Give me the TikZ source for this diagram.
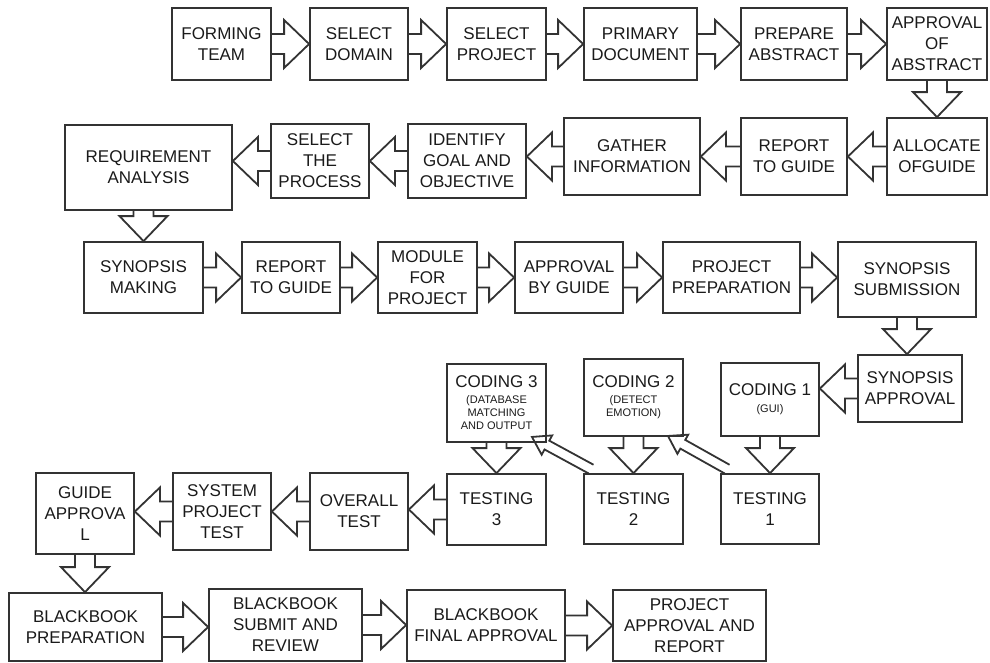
\documentclass[tikz,border=0pt]{standalone}
\usepackage{fontspec}
\setmainfont{Liberation Sans}
\usetikzlibrary{calc}
\definecolor{linegray}{HTML}{333333}
\definecolor{textgray}{HTML}{1A1A1A}
\newcommand{\smalltxt}{\fontsize{11}{13}\selectfont}
% hollow block arrow: shaft half width, head half width, head length, from, to
\newcommand{\blockarrow}[5]{%
  \draw[barrow] let \p1=(#4), \p2=(#5), \n1={atan2(\y2-\y1,\x2-\x1)}, \n2={veclen(\x2-\x1,\y2-\y1)} in
    [shift={(\p1)}, rotate=\n1]
    (0pt,#1) -- (\n2-#3,#1) -- (\n2-#3,#2) -- (\n2,0pt) -- (\n2-#3,-#2) -- (\n2-#3,-#1) -- (0pt,-#1);}
\newcommand{\flowarrow}[2]{\blockarrow{10pt}{24pt}{25pt}{#1}{#2}}
\begin{document}
\begin{tikzpicture}[x=1pt,y=1pt,
  flowbox/.style={draw=linegray, line width=1.8pt, align=center, inner sep=1pt, text=textgray, font=\fontsize{17}{21}\selectfont},
  barrow/.style={draw=linegray, line width=1.8pt, line join=miter}]
\useasboundingbox (0,0) rectangle (990,-662);
% first row
\node[flowbox, minimum width=99pt, minimum height=72pt] (form) at (221.5,-44) {FORMING\\TEAM};
\node[flowbox, minimum width=98pt, minimum height=72pt] (dom) at (359,-44) {SELECT\\DOMAIN};
\node[flowbox, minimum width=99pt, minimum height=72pt] (proj) at (496.5,-44) {SELECT\\PROJECT};
\node[flowbox, minimum width=113pt, minimum height=72pt] (prim) at (640.5,-44) {PRIMARY\\DOCUMENT};
\node[flowbox, minimum width=106pt, minimum height=72pt] (prep) at (794,-44) {PREPARE\\ABSTRACT};
\node[flowbox, minimum width=100pt, minimum height=72pt] (appabs) at (937,-44) {APPROVAL\\OF\\ABSTRACT};
% second row
\node[flowbox, minimum width=100pt, minimum height=77pt] (alloc) at (937,-156.5) {ALLOCATE\\OFGUIDE};
\node[flowbox, minimum width=106pt, minimum height=77pt] (rep1) at (794,-156.5) {REPORT\\TO GUIDE};
\node[flowbox, minimum width=136pt, minimum height=77pt] (gath) at (632,-156.5) {GATHER\\INFORMATION};
\node[flowbox, minimum width=118pt, minimum height=74pt] (ident) at (467,-161) {IDENTIFY\\GOAL AND\\OBJECTIVE};
\node[flowbox, minimum width=98pt, minimum height=74pt] (selproc) at (320,-161) {SELECT\\THE\\PROCESS};
\node[flowbox, minimum width=167pt, minimum height=85pt] (req) at (148.5,-167.5) {REQUIREMENT\\ANALYSIS};
% third row
\node[flowbox, minimum width=119pt, minimum height=71pt] (syn) at (143.5,-277.5) {SYNOPSIS\\MAKING};
\node[flowbox, minimum width=98pt, minimum height=71pt] (rep2) at (291,-277.5) {REPORT\\TO GUIDE};
\node[flowbox, minimum width=99pt, minimum height=71pt] (mod) at (427.5,-277.5) {MODULE\\FOR\\PROJECT};
\node[flowbox, minimum width=108pt, minimum height=71pt] (appg) at (569,-277.5) {APPROVAL\\BY GUIDE};
\node[flowbox, minimum width=137pt, minimum height=71pt] (pprep) at (731.5,-277.5) {PROJECT\\PREPARATION};
\node[flowbox, minimum width=138pt, minimum height=75pt] (synsub) at (907,-279.5) {SYNOPSIS\\SUBMISSION};
% coding
\node[flowbox, minimum width=104pt, minimum height=67pt] (synapp) at (910,-388.5) {SYNOPSIS\\APPROVAL};
\node[flowbox, minimum width=98pt, minimum height=73pt] (cod1) at (770,-399.5) {CODING 1\\[-4pt]\smalltxt (GUI)};
\node[flowbox, minimum width=99pt, minimum height=77pt] (cod2) at (633.5,-397.5) {CODING 2\\[-5pt]\smalltxt (DETECT\\[-8pt]\smalltxt EMOTION)};
\node[flowbox, minimum width=99pt, minimum height=78pt] (cod3) at (496.5,-403) {CODING 3\\[-5pt]\smalltxt (DATABASE\\[-8pt]\smalltxt MATCHING\\[-8pt]\smalltxt AND OUTPUT};
% testing
\node[flowbox, minimum width=98pt, minimum height=70pt] (test1) at (770,-509) {TESTING\\1};
\node[flowbox, minimum width=99pt, minimum height=70pt] (test2) at (633.5,-509) {TESTING\\2};
\node[flowbox, minimum width=99pt, minimum height=71pt] (test3) at (496.5,-509.5) {TESTING\\3};
\node[flowbox, minimum width=98pt, minimum height=77pt] (overall) at (359,-511.5) {OVERALL\\TEST};
\node[flowbox, minimum width=98pt, minimum height=77pt] (sysproj) at (222,-511.5) {SYSTEM\\PROJECT\\TEST};
\node[flowbox, minimum width=98pt, minimum height=81pt] (guide) at (85,-513.5) {GUIDE\\APPROVA\\L};
% last row
\node[flowbox, minimum width=153pt, minimum height=68pt] (bbprep) at (85.5,-627) {BLACKBOOK\\PREPARATION};
\node[flowbox, minimum width=153pt, minimum height=72pt] (bbsub) at (285.5,-625) {BLACKBOOK\\SUBMIT AND\\REVIEW};
\node[flowbox, minimum width=158pt, minimum height=71pt] (bbfinal) at (486,-625.5) {BLACKBOOK\\FINAL APPROVAL};
\node[flowbox, minimum width=153pt, minimum height=71pt] (projapp) at (689.5,-625.5) {PROJECT\\APPROVAL AND\\REPORT};
% arrows
\flowarrow{form.east}{dom.west}
\flowarrow{dom.east}{proj.west}
\flowarrow{proj.east}{prim.west}
\flowarrow{prim.east}{prep.west}
\flowarrow{prep.east}{appabs.west}
\flowarrow{appabs.south}{alloc.north}
\flowarrow{alloc.west}{rep1.east}
\flowarrow{rep1.west}{gath.east}
\flowarrow{gath.west}{ident.east |- gath.west}
\flowarrow{ident.west}{selproc.east}
\flowarrow{selproc.west}{req.east |- selproc.west}
\flowarrow{syn.north |- req.south}{syn.north}
\flowarrow{syn.east}{rep2.west}
\flowarrow{rep2.east}{mod.west}
\flowarrow{mod.east}{appg.west}
\flowarrow{appg.east}{pprep.west}
\flowarrow{pprep.east}{synsub.west |- pprep.east}
\flowarrow{synsub.south}{synsub.south |- synapp.north}
\flowarrow{synapp.west}{cod1.east |- synapp.west}
\flowarrow{cod1.south}{test1.north}
\flowarrow{cod2.south}{test2.north}
\flowarrow{cod3.south}{test3.north}
\flowarrow{test3.west}{overall.east |- test3.west}
\flowarrow{overall.west}{sysproj.east}
\flowarrow{sysproj.west}{guide.east |- sysproj.west}
\flowarrow{guide.south}{guide.south |- bbprep.north}
\flowarrow{bbprep.east}{bbsub.west |- bbprep.east}
\flowarrow{bbsub.east}{bbfinal.west |- bbsub.east}
\flowarrow{bbfinal.east}{projapp.west}
% thin arrows back to the coding boxes
\coordinate (t2tail) at ($(test2.north west)+(8,4)$);
\coordinate (c3tip) at ($(cod3.south east)+(-15,6)$);
\coordinate (t1tail) at ($(test1.north west)+(7,4)$);
\coordinate (c2tip) at ($(cod2.south east)+(-16,1)$);
\blockarrow{5pt}{11pt}{17pt}{t2tail}{c3tip}
\blockarrow{5pt}{11pt}{17pt}{t1tail}{c2tip}
\end{tikzpicture}
\end{document}
